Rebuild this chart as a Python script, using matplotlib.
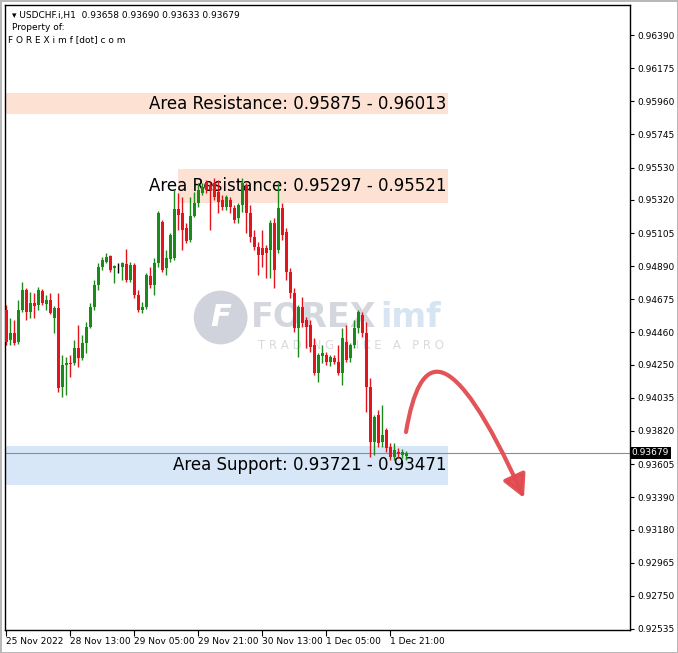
#!/usr/bin/env python3

import matplotlib.pyplot as plt
import matplotlib as mpl
import numpy as np
from matplotlib.path import Path
from matplotlib.patches import FancyArrowPatch, Rectangle, Circle

# USDCHF.i H1 candles (open, high, low, close)
opens = [0.94605, 0.94410, 0.94456, 0.94397, 0.94605, 0.94735, 0.94592, 0.94651, 0.94638, 0.94728,
         0.94644, 0.94670, 0.94553, 0.94618, 0.94106, 0.94248, 0.94261, 0.94261, 0.94358, 0.94294,
         0.94391, 0.94495, 0.94625, 0.94767, 0.94884, 0.94917, 0.94956, 0.94878, 0.94884, 0.94884,
         0.94904, 0.94800, 0.94897, 0.94702, 0.94605, 0.94625, 0.94826, 0.94767, 0.94910, 0.95176,
         0.94878, 0.94936, 0.94943, 0.95261, 0.95235, 0.95137, 0.95059, 0.95215, 0.95300, 0.95365,
         0.95429, 0.95416, 0.95429, 0.95371, 0.95319, 0.95274, 0.95319, 0.95267, 0.95202, 0.95287,
         0.95416, 0.95235, 0.95079, 0.95014, 0.95008, 0.95008, 0.94995, 0.95170, 0.94995, 0.95267,
         0.95111, 0.94852, 0.94715, 0.94488, 0.94625, 0.94540, 0.94508, 0.94378, 0.94196, 0.94307,
         0.94313, 0.94268, 0.94294, 0.94268, 0.94196, 0.94397, 0.94294, 0.94378, 0.94488, 0.94573,
         0.94456, 0.94106, 0.93748, 0.93924, 0.93748, 0.93826, 0.93716, 0.93651, 0.93684, 0.93664,
         0.93658]
highs = [0.94638, 0.94553, 0.94540, 0.94670, 0.94787, 0.94748, 0.94722, 0.94715, 0.94754, 0.94741,
         0.94702, 0.94715, 0.94631, 0.94715, 0.94313, 0.94300, 0.94313, 0.94410, 0.94508, 0.94443,
         0.94527, 0.94651, 0.94800, 0.94910, 0.94949, 0.94975, 0.94962, 0.94897, 0.94910, 0.94917,
         0.95001, 0.94917, 0.94910, 0.94735, 0.94657, 0.94845, 0.94884, 0.94943, 0.95248, 0.95189,
         0.94995, 0.95105, 0.95384, 0.95365, 0.95339, 0.95170, 0.95339, 0.95371, 0.95429, 0.95429,
         0.95449, 0.95436, 0.95462, 0.95449, 0.95352, 0.95352, 0.95339, 0.95287, 0.95300, 0.95462,
         0.95429, 0.95287, 0.95124, 0.95046, 0.95124, 0.95027, 0.95189, 0.95202, 0.95429, 0.95300,
         0.95137, 0.94878, 0.94748, 0.94638, 0.94690, 0.94560, 0.94540, 0.94423, 0.94326, 0.94378,
         0.94333, 0.94313, 0.94313, 0.94378, 0.94488, 0.94508, 0.94391, 0.94540, 0.94605, 0.94592,
         0.94527, 0.94164, 0.93924, 0.93956, 0.93989, 0.93839, 0.93742, 0.93742, 0.93710, 0.93703,
         0.93690]
lows = [0.94378, 0.94378, 0.94378, 0.94384, 0.94592, 0.94540, 0.94553, 0.94553, 0.94605, 0.94638,
        0.94605, 0.94579, 0.94456, 0.94073, 0.94041, 0.94054, 0.94170, 0.94248, 0.94235, 0.94281,
        0.94326, 0.94488, 0.94605, 0.94735, 0.94865, 0.94910, 0.94852, 0.94780, 0.94845, 0.94800,
        0.94787, 0.94787, 0.94683, 0.94592, 0.94586, 0.94612, 0.94748, 0.94702, 0.94884, 0.94852,
        0.94832, 0.94917, 0.94930, 0.95124, 0.94995, 0.95040, 0.95046, 0.95209, 0.95274, 0.95352,
        0.95365, 0.95124, 0.95319, 0.95235, 0.95254, 0.95254, 0.95235, 0.95170, 0.95170, 0.95241,
        0.95105, 0.95046, 0.94995, 0.94832, 0.94884, 0.94813, 0.94813, 0.94748, 0.94975, 0.95059,
        0.94800, 0.94683, 0.94462, 0.94300, 0.94495, 0.94358, 0.94333, 0.94183, 0.94138, 0.94261,
        0.94248, 0.94242, 0.94255, 0.94183, 0.94118, 0.94268, 0.94268, 0.94358, 0.94456, 0.94430,
        0.93943, 0.93651, 0.93664, 0.93716, 0.93716, 0.93684, 0.93632, 0.93632, 0.93645, 0.93645,
        0.93633]
closes = [0.94397, 0.94456, 0.94391, 0.94605, 0.94735, 0.94592, 0.94651, 0.94631, 0.94735, 0.94651,
          0.94670, 0.94586, 0.94618, 0.94099, 0.94248, 0.94261, 0.94255, 0.94358, 0.94294, 0.94391,
          0.94495, 0.94625, 0.94767, 0.94884, 0.94930, 0.94949, 0.94865, 0.94891, 0.94884, 0.94910,
          0.94800, 0.94897, 0.94702, 0.94605, 0.94625, 0.94832, 0.94767, 0.94910, 0.95235, 0.94865,
          0.94943, 0.95092, 0.95261, 0.95222, 0.95124, 0.95053, 0.95215, 0.95300, 0.95384, 0.95404,
          0.95384, 0.95384, 0.95339, 0.95306, 0.95274, 0.95339, 0.95274, 0.95189, 0.95287, 0.95429,
          0.95235, 0.95079, 0.95014, 0.94962, 0.94962, 0.94975, 0.95170, 0.94865, 0.95267, 0.95092,
          0.94852, 0.94715, 0.94488, 0.94625, 0.94521, 0.94495, 0.94365, 0.94196, 0.94313, 0.94326,
          0.94268, 0.94300, 0.94268, 0.94196, 0.94423, 0.94281, 0.94378, 0.94488, 0.94592, 0.94456,
          0.94106, 0.93748, 0.93911, 0.93742, 0.93794, 0.93710, 0.93651, 0.93697, 0.93671, 0.93684,
          0.93679]

price_ticks = [0.96390, 0.96175, 0.95960, 0.95745, 0.95530, 0.95320, 0.95105, 0.94890, 0.94675, 0.94460,
               0.94250, 0.94035, 0.93820, 0.93605, 0.93390, 0.93180, 0.92965, 0.92750, 0.92535]
time_ticks = [0, 16, 32, 48, 64, 80, 96]
time_labels = ['25 Nov 2022', '28 Nov 13:00', '29 Nov 05:00', '29 Nov 21:00',
               '30 Nov 13:00', '1 Dec 05:00', '1 Dec 21:00']

zones = [
    # (low, high, left bar, label, fill)
    (0.95875, 0.96013, -0.25, 'Area Resistance: 0.95875 - 0.96013', '#fde2d4'),
    (0.95297, 0.95521, 43.0, 'Area Resistance: 0.95297 - 0.95521', '#fde2d4'),
    (0.93471, 0.93721, -0.25, 'Area Support: 0.93721 - 0.93471', '#d7e7f7'),
]
zone_right = 110.5
last_price = 0.93679

# forecast arrow control points (bar index, price)
arrow_x = [100.0, 103.5, 111.0, 129.5]
arrow_y = [0.93813, 0.94346, 0.94443, 0.93385]

GREEN = '#1b8a1b'
RED = '#e4141c'

fig = plt.figure(figsize=(6.78, 6.53), dpi=100)
fig.patch.set_facecolor('white')
ax = fig.add_axes([5 / 678, 23 / 653, 625 / 678, 625 / 653])
ax.set_xlim(-0.25, 156)
ax.set_ylim(0.92528, 0.96585)

# zones + labels
for lo, hi, left, label, col in zones:
    ax.add_patch(Rectangle((left, lo), zone_right - left, hi - lo, facecolor=col,
                           edgecolor='none', zorder=0))
    ax.text(zone_right - 0.3, (lo + hi) / 2, label, ha='right', va='center',
            fontsize=12, color='black', zorder=1)

# watermark
ax.add_patch(Circle((0.345, 0.50), 0.043, transform=ax.transAxes, facecolor='#d0d3dc',
                    edgecolor='none', zorder=0.5))
ax.text(0.345, 0.50, 'F', transform=ax.transAxes, ha='center', va='center', fontsize=22,
        fontweight='bold', style='italic', color='white', zorder=0.6)
ax.text(0.393, 0.50, 'FOREX', transform=ax.transAxes, ha='left', va='center', fontsize=24,
        fontweight='bold', color='#d5d7de', zorder=0.5)
ax.text(0.600, 0.50, 'imf', transform=ax.transAxes, ha='left', va='center', fontsize=24,
        fontweight='bold', color='#d6e5f1', zorder=0.5)
ax.text(0.405, 0.455, 'T R A D I N G   L I K E   A   P R O', transform=ax.transAxes,
        ha='left', va='center', fontsize=8.5, color='#dadada', zorder=0.5)

# candles
idx = np.arange(len(opens))
o = np.array(opens)
h = np.array(highs)
l = np.array(lows)
c = np.array(closes)
cols = np.where(c > o, GREEN, np.where(c < o, RED, 'black'))
ax.vlines(idx, l, h, colors=cols, linewidth=1, zorder=2)
body_lo = np.minimum(o, c)
body_h = np.maximum(np.abs(c - o), 0.000012)
ax.bar(idx, body_h, bottom=body_lo, width=0.75, color=cols, edgecolor='none', zorder=3)

# current price line
ax.axhline(last_price, color='#8090a0', linewidth=0.8, zorder=1.5)

# forecast arrow
verts = list(zip(arrow_x, arrow_y))
arrow = FancyArrowPatch(path=Path(verts, [Path.MOVETO, Path.CURVE4, Path.CURVE4, Path.CURVE4]),
                        arrowstyle='-|>,head_length=0.8,head_width=0.42', mutation_scale=17,
                        color='#e14b4f', linewidth=3.0, alpha=0.95, zorder=4)
ax.add_patch(arrow)

# axes styling
for s in ax.spines.values():
    s.set_color('black')
    s.set_linewidth(1)
ax.yaxis.tick_right()
ax.set_yticks(price_ticks)
ax.set_yticklabels(['%.5f' % p for p in price_ticks])
ax.tick_params(axis='y', direction='out', length=3, width=0.8, labelsize=6.5, pad=2)
ax.set_xticks(time_ticks)
ax.set_xticklabels(time_labels, ha='left')
ax.tick_params(axis='x', direction='out', length=4, width=0.8, labelsize=6.5, pad=1)

# last price box
ax.text(1.003, last_price, '%.5f' % last_price, transform=ax.get_yaxis_transform(),
        ha='left', va='center', fontsize=6.5, color='white',
        bbox=dict(boxstyle='square,pad=0.15', facecolor='black', edgecolor='none'))

# header text
ax.text(0.012, 0.990, '\u25be USDCHF.i,H1  0.93658 0.93690 0.93633 0.93679', transform=ax.transAxes,
        ha='left', va='top', fontsize=6.5)
ax.text(0.012, 0.971, 'Property of:', transform=ax.transAxes, ha='left', va='top', fontsize=6.5)
ax.text(0.004, 0.952, 'F O R E X i m f [dot] c o m', transform=ax.transAxes, ha='left',
        va='top', fontsize=6.5)

fig.patch.set_edgecolor('#b8b8b8')
fig.patch.set_linewidth(2)
fig.savefig('out.png', dpi=100, facecolor=fig.get_facecolor(), edgecolor=fig.get_edgecolor())
